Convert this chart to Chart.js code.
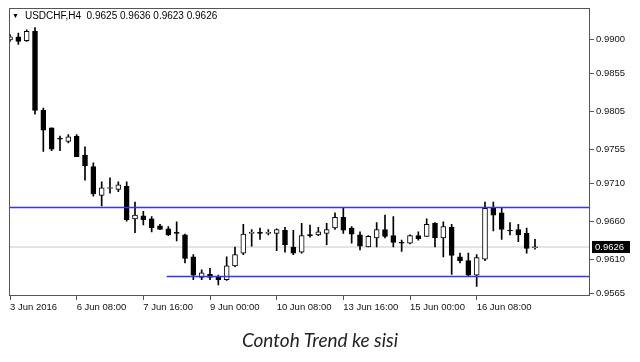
<!DOCTYPE html>
<html>
<head>
<meta charset="utf-8">
<script src="https://cdn.jsdelivr.net/npm/chart.js@4.4.0/dist/chart.umd.min.js"></script>
<style>
  html, body { margin: 0; padding: 0; background: #fff; }
  #wrap { position: relative; width: 640px; height: 362px; }
  #title { position: absolute; left: 12px; top: 10px; font: 10px "Liberation Sans", Arial, sans-serif; white-space: pre; color: #000; }
  #title .tri { font-size: 7px; vertical-align: 1px; margin-right: 6px; }
  #caption { position: absolute; left: 0; top: 328px; width: 640px; text-align: center; font: italic 19px Lato, sans-serif; color: #222; }
</style>
</head>
<body>
<div id="wrap">
  <canvas id="chart" width="640" height="362"></canvas>
  <div id="title"><span class="tri">▼</span>USDCHF,H4  0.9625 0.9636 0.9623 0.9626</div>
  <div id="caption">Contoh Trend ke sisi</div>
</div>
<script>
// H4 candles, 3 Jun 2016 00:00 onwards (one entry per bar)
const opens  = [0.9899, 0.9903, 0.9898, 0.9910, 0.9806, 0.9783, 0.9769, 0.9765, 0.9772, 0.9747,
                0.9732, 0.9694, 0.9703, 0.9702, 0.9706, 0.9663, 0.9667, 0.9663, 0.9654, 0.9650,
                0.9645, 0.9642, 0.9613, 0.9586, 0.9590, 0.9586, 0.9583, 0.9601, 0.9618, 0.9644,
                0.9645, 0.9644, 0.9644, 0.9648, 0.9626, 0.9619, 0.9642, 0.9642, 0.9644, 0.9651,
                0.9665, 0.9651, 0.9642, 0.9626, 0.9638, 0.9649, 0.9641, 0.9632, 0.9631, 0.9641,
                0.9640, 0.9657, 0.9638, 0.9652, 0.9613, 0.9608, 0.9589, 0.9610, 0.9677, 0.9671,
                0.9648, 0.9649, 0.9644, 0.9625];
const highs  = [0.9906, 0.9908, 0.9912, 0.9915, 0.9809, 0.9783, 0.9772, 0.9774, 0.9774, 0.9758,
                0.9737, 0.9712, 0.9717, 0.9712, 0.9712, 0.9685, 0.9673, 0.9666, 0.9656, 0.9653,
                0.9659, 0.9643, 0.9616, 0.9596, 0.9598, 0.9589, 0.9613, 0.9626, 0.9656, 0.9649,
                0.9651, 0.9649, 0.9650, 0.9652, 0.9648, 0.9657, 0.9655, 0.9652, 0.9657, 0.9671,
                0.9678, 0.9653, 0.9646, 0.9641, 0.9658, 0.9668, 0.9666, 0.9635, 0.9642, 0.9646,
                0.9663, 0.9658, 0.9659, 0.9656, 0.9618, 0.9618, 0.9616, 0.9685, 0.9685, 0.9677,
                0.9658, 0.9656, 0.9651, 0.9636];
const lows   = [0.9897, 0.9893, 0.9897, 0.9801, 0.9752, 0.9753, 0.9753, 0.9763, 0.9745, 0.9714,
                0.9693, 0.9680, 0.9697, 0.9699, 0.9660, 0.9645, 0.9655, 0.9646, 0.9649, 0.9641,
                0.9634, 0.9605, 0.9583, 0.9583, 0.9583, 0.9576, 0.9582, 0.9600, 0.9616, 0.9627,
                0.9636, 0.9642, 0.9621, 0.9619, 0.9616, 0.9618, 0.9639, 0.9641, 0.9629, 0.9649,
                0.9644, 0.9631, 0.9622, 0.9626, 0.9626, 0.9638, 0.9626, 0.9620, 0.9630, 0.9635,
                0.9640, 0.9626, 0.9613, 0.9590, 0.9605, 0.9587, 0.9574, 0.9608, 0.9647, 0.9636,
                0.9642, 0.9633, 0.9618, 0.9623];
const closes = [0.9903, 0.9897, 0.9910, 0.9806, 0.9780, 0.9755, 0.9768, 0.9771, 0.9745, 0.9733,
                0.9696, 0.9704, 0.9704, 0.9708, 0.9662, 0.9668, 0.9662, 0.9651, 0.9649, 0.9642,
                0.9644, 0.9611, 0.9589, 0.9592, 0.9586, 0.9583, 0.9601, 0.9616, 0.9643, 0.9645,
                0.9644, 0.9645, 0.9649, 0.9629, 0.9618, 0.9641, 0.9641, 0.9646, 0.9649, 0.9665,
                0.9648, 0.9643, 0.9627, 0.9640, 0.9649, 0.9640, 0.9632, 0.9631, 0.9641, 0.9637,
                0.9656, 0.9638, 0.9653, 0.9615, 0.9608, 0.9589, 0.9612, 0.9677, 0.9668, 0.9649,
                0.9647, 0.9642, 0.9624, 0.9626];

const xTickIdx    = [0, 8, 16, 24, 32, 40, 48, 56];
const xTickLabels = ['3 Jun 2016', '6 Jun 08:00', '7 Jun 16:00', '9 Jun 00:00',
                     '10 Jun 08:00', '13 Jun 16:00', '15 Jun 00:00', '16 Jun 08:00'];
const yTickValues = [0.9565, 0.9610, 0.9660, 0.9710, 0.9755, 0.9805, 0.9855, 0.9900];

const upperLine = 0.9678;   // top of the range
const lowerLine = 0.9587;   // bottom of the range
const lowerLineFrom = 18.8; // bar where the lower line starts
const bid = 0.9626;

const FONT = { family: '"Liberation Sans", Arial, sans-serif', size: 9.5 };
const BLUE = '#3333ff';

const framePlugin = {
  id: 'frame',
  afterDraw(chart) {
    const { ctx, chartArea: a, scales } = chart;
    ctx.save();
    ctx.strokeStyle = '#555';
    ctx.lineWidth = 1;
    ctx.strokeRect(Math.floor(a.left) + 0.5, Math.floor(a.top) + 0.5,
                   Math.round(a.right - a.left) - 1, Math.round(a.bottom - a.top) - 1);
    // current price box on the price axis
    const y = scales.y.getPixelForValue(bid);
    ctx.fillStyle = '#000';
    ctx.fillRect(a.right + 2, Math.round(y) - 6, 38, 12);
    ctx.fillStyle = '#fff';
    ctx.font = '9.5px "Liberation Sans", Arial, sans-serif';
    ctx.textBaseline = 'middle';
    ctx.fillText(bid.toFixed(4), a.right + 5, Math.round(y) + 0.5);
    ctx.restore();
  }
};

new Chart(document.getElementById('chart'), {
  type: 'bar',
  data: {
    datasets: [
      {
        type: 'line', label: 'bid',
        data: [{ x: -1, y: bid }, { x: 80, y: bid }],
        borderColor: '#c8c8c8', borderWidth: 1, pointRadius: 0, order: 10
      },
      {
        label: 'wick',
        data: highs.map((h, i) => ({ x: i, y: [lows[i], h] })),
        backgroundColor: '#000', barThickness: 1, grouped: false, order: 6
      },
      {
        label: 'body',
        data: opens.map((o, i) => ({ x: i, y: [o, closes[i]] })),
        backgroundColor: opens.map((o, i) => closes[i] >= o ? '#fff' : '#000'),
        borderColor: '#000', borderWidth: 1, borderSkipped: false,
        barThickness: 5, minBarLength: 1, grouped: false, order: 5
      },
      {
        type: 'line', label: 'upper',
        data: [{ x: -1, y: upperLine }, { x: 80, y: upperLine }],
        borderColor: BLUE, backgroundColor: BLUE, borderWidth: 1.4, pointRadius: 0, order: 1
      },
      {
        type: 'line', label: 'lower',
        data: [{ x: lowerLineFrom, y: lowerLine }, { x: 80, y: lowerLine }],
        borderColor: BLUE, backgroundColor: BLUE, borderWidth: 1.4, pointRadius: 0, order: 1
      }
    ]
  },
  options: {
    responsive: false,
    animation: false,
    layout: { padding: { left: 9.5, top: 8, right: 0, bottom: 0 } },
    plugins: { legend: { display: false }, tooltip: { enabled: false } },
    scales: {
      x: {
        type: 'linear', min: -0.06, max: 69.6, offset: false,
        grid: { offset: false, drawOnChartArea: false, tickLength: 4, color: '#555' },
        border: { display: false },
        afterBuildTicks: s => { s.ticks = xTickIdx.map(v => ({ value: v })); },
        afterFit: s => { s.height = 66; },
        ticks: {
          autoSkip: false, maxRotation: 0, align: 'start', padding: 2,
          color: '#111', font: FONT,
          callback: v => xTickLabels[xTickIdx.indexOf(v)]
        }
      },
      y: {
        type: 'linear', position: 'right', min: 0.95614, max: 0.99409,
        grid: { drawOnChartArea: false, tickLength: 4, color: '#555' },
        border: { display: false },
        afterBuildTicks: s => { s.ticks = yTickValues.map(v => ({ value: v })); },
        afterFit: s => { s.width = 50; },
        ticks: {
          autoSkip: false, padding: 2, color: '#111', font: FONT,
          callback: v => v.toFixed(4)
        }
      }
    }
  },
  plugins: [framePlugin]
});
</script>
</body>
</html>
